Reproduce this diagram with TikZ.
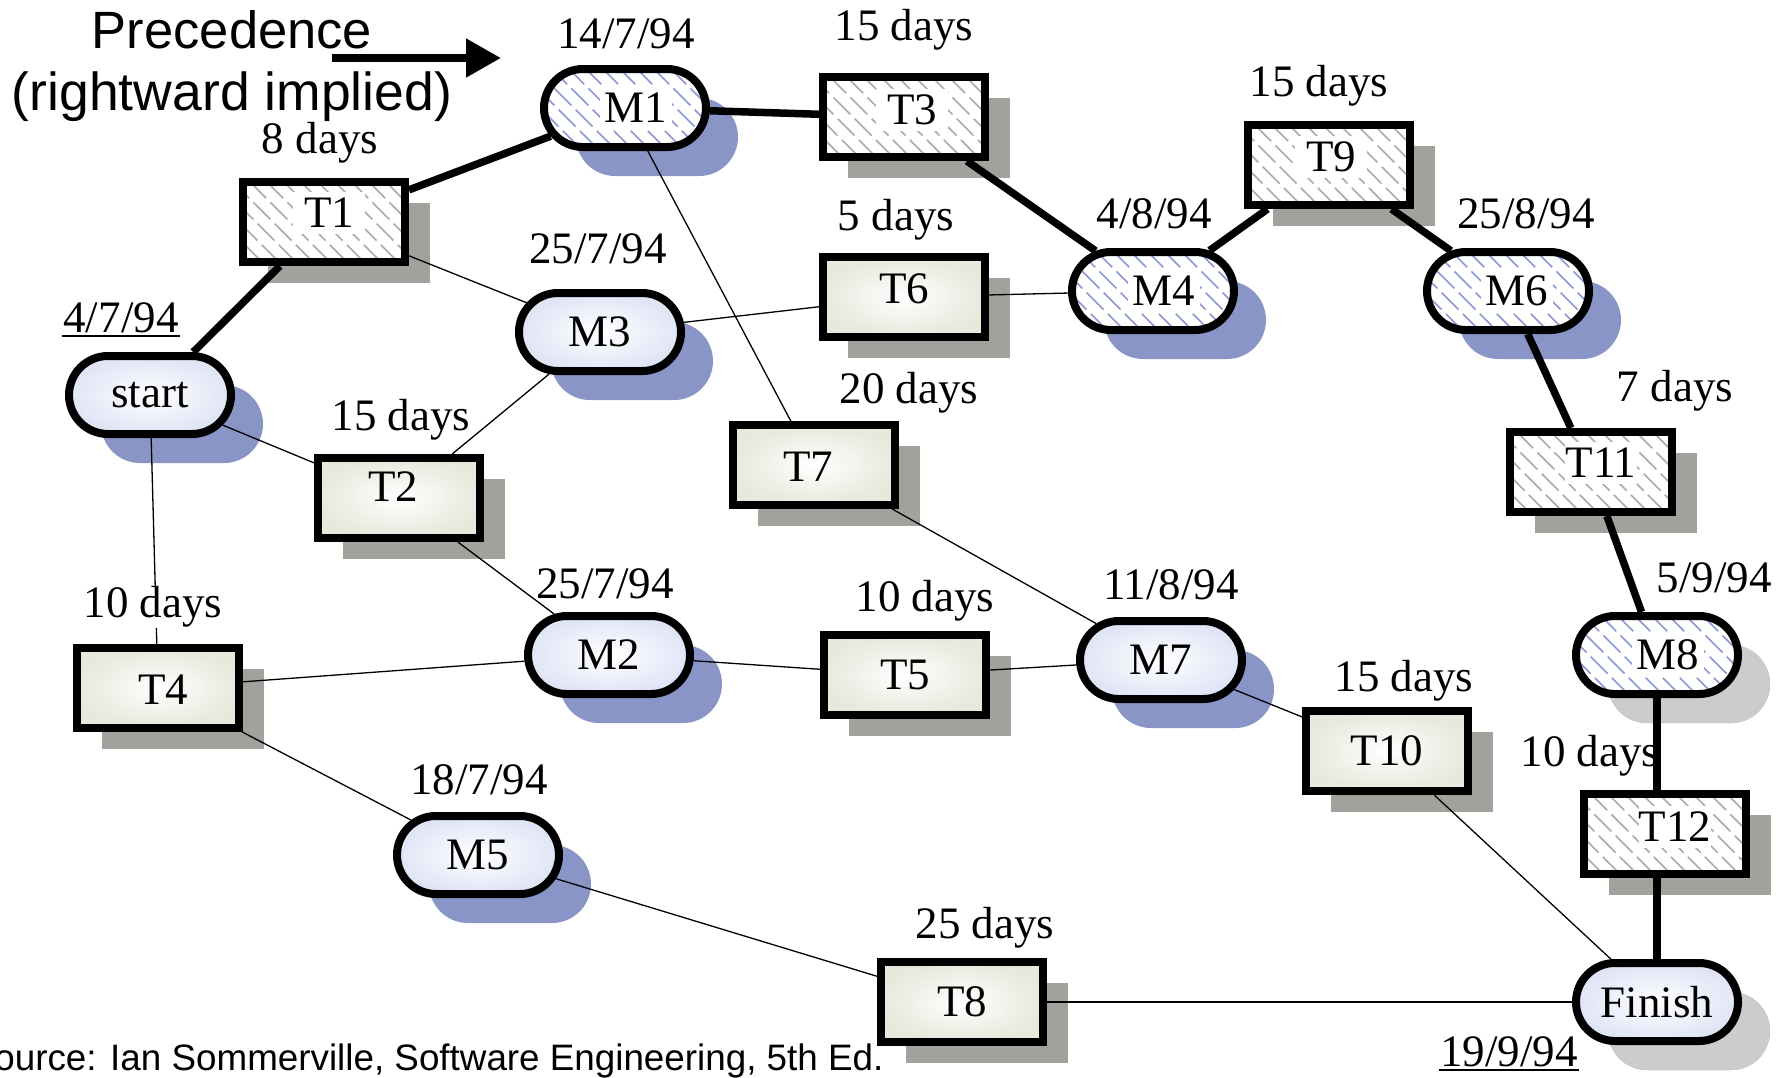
\documentclass[tikz,border=0pt]{standalone}
\usepackage{fontspec}
\setmainfont{Liberation Serif}
\newfontfamily\headfont{Liberation Sans}
\usetikzlibrary{shapes.misc,shadows,arrows.meta,calc}

\definecolor{shadeblue}{RGB}{137,148,199}
\definecolor{shadegray}{RGB}{160,162,155}
\definecolor{shadelight}{RGB}{204,204,204}
\definecolor{taskfill}{RGB}{230,233,220}
\definecolor{milefill}{RGB}{224,229,246}
\definecolor{hatchgray}{RGB}{170,170,170}
\definecolor{hatchblue}{RGB}{140,152,212}

% node text moved by the offsets stored in /tikz/txtdx and /tikz/txtdy (pt, y up)
\newcommand\nudge[1]{\raisebox{\pgfkeysvalueof{/tikz/txtdy}pt}[\height][\depth]{%
  \hspace*{\pgfkeysvalueof{/tikz/txtdx}pt}#1\hspace*{-\pgfkeysvalueof{/tikz/txtdx}pt}}}

\begin{document}
\begin{tikzpicture}[x=1pt,y=-1pt,
  txtdx/.initial=0, txtdy/.initial=0,
  txt/.style 2 args={txtdx=#1, txtdy=#2},
  every node/.style={font=\fontsize{45}{50}\selectfont},
  task/.style={rectangle, draw, line width=8pt, minimum width=162pt,
    minimum height=80pt, inner sep=0pt,
    drop shadow={shadow xshift=25pt, shadow yshift=-21pt, fill=shadegray, opacity=1}},
  mile/.style={rounded rectangle, draw, line width=8pt, minimum width=162pt,
    minimum height=78pt, inner sep=0pt,
    drop shadow={shadow xshift=32pt, shadow yshift=-29pt, fill=shadeblue, opacity=1}},
  greyshadow/.style={drop shadow={shadow xshift=32pt, shadow yshift=-29pt, fill=shadelight, opacity=1}},
  plaintask/.style={shade, inner color=white, outer color=taskfill},
  plainmile/.style={shade, inner color=white, outer color=milefill},
  hatched/.style={fill=white, path picture={
    \foreach \k in {-9,...,9}{
      \draw[#1, line width=1.6pt, dash pattern=on 24pt off 6pt]
        ($(path picture bounding box.center)+(\k*17,0)+(-62,-62)$) -- ++(124,124);
    }
    \fill[white]
      ($(path picture bounding box.center)+(\pgfkeysvalueof{/tikz/txtdx},-\pgfkeysvalueof{/tikz/txtdy})+(-36,-21)$)
      rectangle ++(72,42);
  }},
  crit/.style={line width=7.5pt},
  thin/.style={line width=1.3pt},
  lbl/.style={inner sep=1pt},
  opaque/.style={fill=white}
]
\useasboundingbox (0,0) rectangle (1788,1077);

% heading and its arrow
\node[font=\headfont\fontsize{52.5}{56}\selectfont, anchor=base] (h1) at (232,48) {Precedence};
\node[font=\headfont\fontsize{53.5}{56}\selectfont, anchor=base] (h2) at (232,110) {(rightward implied)};
\coordinate (arrA) at (332,58);
\coordinate (arrB) at (501,58);
\draw[line width=8pt, -{Triangle[length=35pt 0 0, width=37pt 0 0]}] (arrA) -- (arrB);

% source line
\node[font=\headfont\fontsize{36.8}{40}\selectfont, anchor=base east] (src) at (887,1070)
  {Source: Ian Sommerville, Software Engineering, 5th Ed.};

% tasks
\node[task, txt={5}{9}, hatched=hatchgray] (T1) at (324,222) {\nudge{T1}};
\node[task, txt={8}{7}, hatched=hatchgray] (T3) at (904,117) {\nudge{T3}};
\node[task, txt={2}{8}, hatched=hatchgray] (T9) at (1329,165) {\nudge{T9}};
\node[task, txt={0}{8}, plaintask] (T6) at (904,297) {\nudge{T6}};
\node[task, txt={-6}{11}, plaintask] (T2) at (399,498) {\nudge{T2}};
\node[task, txt={-6}{-2}, plaintask] (T7) at (814,465) {\nudge{T7}};
\node[task, txt={5}{-2}, plaintask] (T4) at (158,688) {\nudge{T4}};
\node[task, plaintask] (T5) at (905,675) {T5};
\node[task, plaintask] (T10) at (1387,751) {T10};
\node[task, plaintask] (T8) at (962,1002) {T8};
\node[task, txt={10}{9}, hatched=hatchgray] (T11) at (1591,472) {\nudge{T11}};
\node[task, txt={10}{7}, hatched=hatchgray] (T12) at (1665,834) {\nudge{T12}};

% milestones
\node[mile, txt={11}{0}, hatched=hatchblue] (M1) at (625,108) {\nudge{M1}};
\node[mile, plainmile] (start) at (150,395) {start};
\node[mile, plainmile] (M3) at (600,332) {M3};
\node[mile, txt={11}{0}, hatched=hatchblue] (M4) at (1153,291) {\nudge{M4}};
\node[mile, txt={9}{0}, hatched=hatchblue] (M6) at (1508,291) {\nudge{M6}};
\node[mile, plainmile] (M2) at (609,655) {M2};
\node[mile, plainmile] (M7) at (1161,660) {M7};
\node[mile, plainmile] (M5) at (478,855) {M5};
\node[mile, greyshadow, txt={11}{0}, hatched=hatchblue] (M8) at (1657,655) {\nudge{M8}};
\node[mile, greyshadow, plainmile] (Fin) at (1657,1002) {Finish};

% critical path
\draw[crit] (start) -- (T1);
\draw[crit] (T1) -- (M1);
\draw[crit] (M1) -- (T3);
\draw[crit] (T3) -- (M4);
\draw[crit] (M4) -- (T9);
\draw[crit] (T9) -- (M6);
\draw[crit] (M6) -- (T11);
\draw[crit] (T11) -- (M8);
\draw[crit] (M8) -- (M8 |- T12.north);
\draw[crit] (Fin |- T12.south) -- (Fin);

% other dependencies
\draw[thin] (T1) -- (M3);
\draw[thin] (M1) -- (T7);
\draw[thin] (M3) -- (T6);
\draw[thin] (T6) -- (M4);
\draw[thin] (start) -- (T2);
\draw[thin] (T2) -- (M3);
\draw[thin] (T2) -- (M2);
\draw[thin] (start) -- (T4);
\draw[thin] (T4) -- (M2);
\draw[thin] (M2) -- (T5);
\draw[thin] (T5) -- (M7);
\draw[thin] (T7) -- (M7);
\draw[thin] (M7) -- (T10);
\draw[thin] (T10) -- (Fin);
\draw[thin] (T4) -- (M5);
\draw[thin] (M5) -- (T8);
\draw[thin] (T8) -- (Fin);

% durations and dates
\node[lbl] (d1) at (320,143) {8 days};
\node[lbl] (d2) at (626,34) {14/7/94};
\node[lbl] (d3) at (904,30) {15 days};
\node[lbl] (d4) at (1319,86) {15 days};
\node[lbl] (d5) at (896,220) {5 days};
\node[lbl] (d6) at (598,249) {25/7/94};
\node[lbl] (d7) at (1154,214) {4/8/94};
\node[lbl] (d8) at (1526,214) {25/8/94};
\node[lbl] (d9) at (121,318) {4/7/94};
\draw[line width=2.2pt] ([yshift=-2pt]d9.south west) -- ([yshift=-2pt]d9.south east);
\node[lbl] (d10) at (401,420) {15 days};
\node[lbl] (d11) at (909,393) {20 days};
\node[lbl] (d12) at (1675,391) {7 days};
\node[lbl, opaque] (d13) at (153,607) {10 days};
\node[lbl] (d14) at (605,584) {25/7/94};
\node[lbl] (d15) at (925,601) {10 days};
\node[lbl] (d16) at (1171,585) {11/8/94};
\node[lbl] (d17) at (1714,578) {5/9/94};
\node[lbl] (d18) at (1404,681) {15 days};
\node[lbl] (d19) at (1590,756) {10 days};
\node[lbl] (d20) at (479,780) {18/7/94};
\node[lbl] (d21) at (985,928) {25 days};
\node[lbl, anchor=base] (d22) at (1509,1066) {19/9/94};
\draw[line width=2.2pt] ([yshift=-2pt]d22.south west) -- ([yshift=-2pt]d22.south east);
\end{tikzpicture}
\end{document}
